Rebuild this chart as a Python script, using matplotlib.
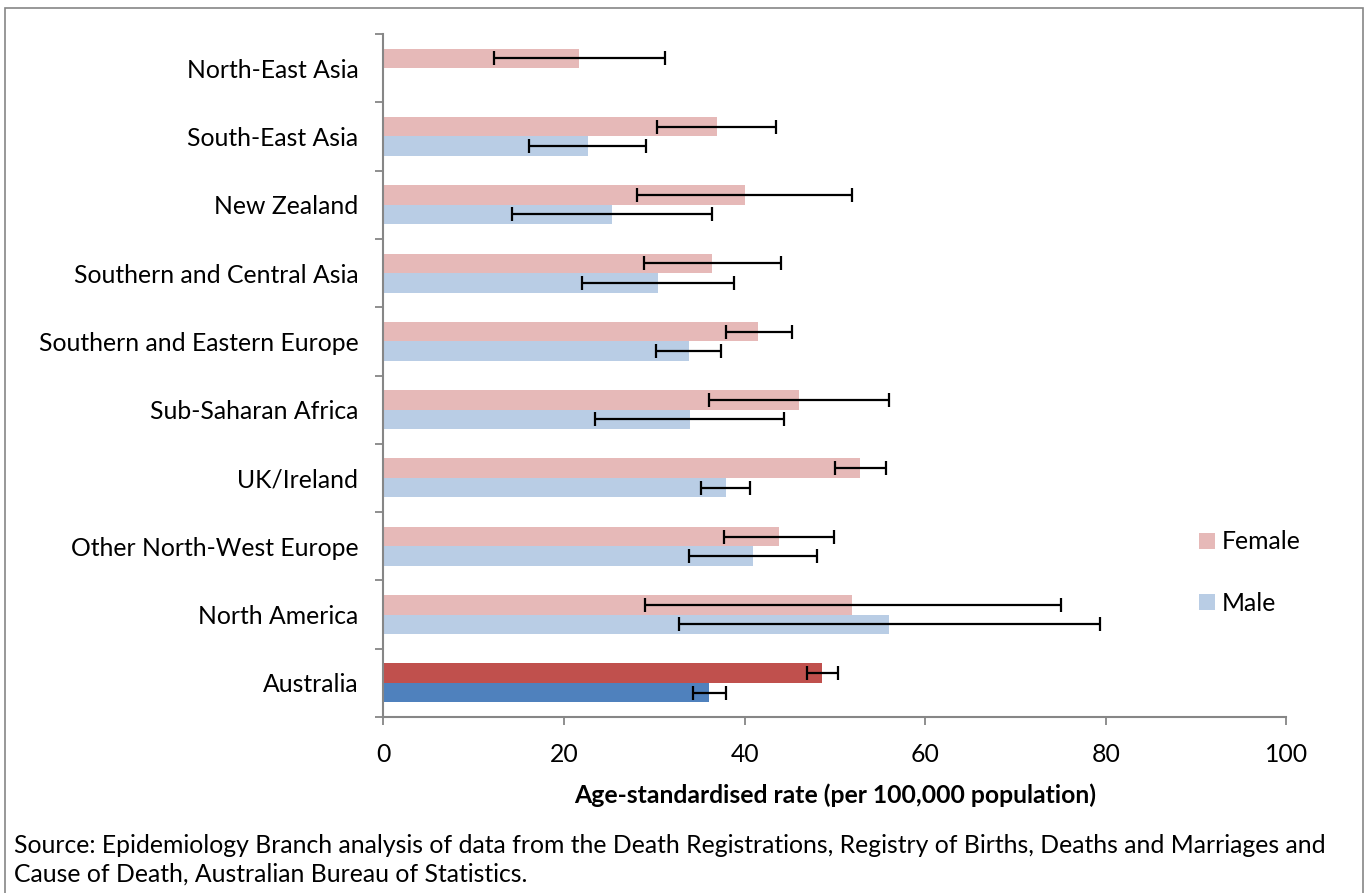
import matplotlib
matplotlib.use("Agg")
import matplotlib.pyplot as plt
import numpy as np
from matplotlib.patches import Rectangle, Patch

plt.rcParams['font.family'] = ['Lato', 'DejaVu Sans']

# categories, top to bottom as shown
categories = ["North-East Asia", "South-East Asia", "New Zealand",
              "Southern and Central Asia", "Southern and Eastern Europe",
              "Sub-Saharan Africa", "UK/Ireland", "Other North-West Europe",
              "North America", "Australia"]

female = [21.7, 36.9, 40.0, 36.4, 41.5, 46.0, 52.8, 43.8, 51.9, 48.6]
female_lo = [12.2, 30.3, 28.1, 28.8, 37.9, 36.0, 50.0, 37.7, 29.0, 46.9]
female_hi = [31.2, 43.5, 51.9, 44.0, 45.2, 56.0, 55.6, 49.9, 75.0, 50.3]

male = [0.0, 22.6, 25.3, 30.4, 33.8, 34.0, 37.9, 40.9, 56.0, 36.1]
male_lo = [np.nan, 16.1, 14.2, 22.0, 30.2, 23.4, 35.2, 33.8, 32.7, 34.3]
male_hi = [np.nan, 29.1, 36.4, 38.8, 37.4, 44.4, 40.6, 48.0, 79.3, 37.9]

xticks = [0, 20, 40, 60, 80, 100]

# plot from bottom up
cats = categories[::-1]
f = np.array(female[::-1]); flo = np.array(female_lo[::-1]); fhi = np.array(female_hi[::-1])
m = np.array(male[::-1]); mlo = np.array(male_lo[::-1]); mhi = np.array(male_hi[::-1])

pink, blue = '#E6B9B8', '#B9CDE5'
red, dblue = '#C0504D', '#4F81BD'
grey = '#868686'
fs = 17.8

fcol = [red if c == "Australia" else pink for c in cats]
mcol = [dblue if c == "Australia" else blue for c in cats]

fig = plt.figure(figsize=(13.68, 8.93), dpi=100)
ax = fig.add_axes([0.2803, 0.1971, 0.6601, 0.7648])

y = np.arange(len(cats))
h = 0.285
ax.barh(y + h / 2, f, height=h, color=fcol)
ax.barh(y - h / 2, m, height=h, color=mcol)

err_kw = dict(fmt='none', ecolor='black', elinewidth=1.6, capsize=5, capthick=1.6)
ax.errorbar(f, y + h / 2, xerr=[f - flo, fhi - f], **err_kw)
ax.errorbar(m, y - h / 2, xerr=[m - mlo, mhi - m], **err_kw)

ax.set_xlim(0, 100)
ax.set_ylim(-0.5, len(cats) - 0.5)
ax.set_xticks(xticks)
ax.set_xticklabels([str(t) for t in xticks], fontsize=fs)
ax.set_yticks(y)
ax.set_yticklabels(cats, fontsize=fs)
ax.set_yticks(np.arange(len(cats) + 1) - 0.5, minor=True)
ax.tick_params(axis='y', which='major', length=0, pad=18)
ax.tick_params(axis='y', which='minor', length=6, color=grey, width=1.3)
ax.tick_params(axis='x', length=6, color=grey, width=1.3, pad=13)

for s in ['top', 'right']:
    ax.spines[s].set_visible(False)
for s in ['left', 'bottom']:
    ax.spines[s].set_color(grey)
    ax.spines[s].set_linewidth(1.5)

ax.set_xlabel('Age-standardised rate (per 100,000 population)', fontsize=fs,
              fontweight='bold', labelpad=12)

handles = [Patch(facecolor=pink, label='Female'), Patch(facecolor=blue, label='Male')]
fig.legend(handles=handles, loc='upper left', bbox_to_anchor=(0.8605, 0.431),
           frameon=False, fontsize=fs, handlelength=0.62, handleheight=0.62,
           handletextpad=0.3, labelspacing=1.55)

fig.text(0.0102, 0.0368, "Source: Epidemiology Branch analysis of data from the Death Registrations, "
         "Registry of Births, Deaths and Marriages and\nCause of Death, Australian Bureau of Statistics.",
         fontsize=fs, ha='left', va='center', linespacing=1.3)

fig.patches.append(Rectangle((5 / 1368, -0.05), 1358 / 1368, 1.05 - 8 / 893,
                             transform=fig.transFigure, fill=False,
                             edgecolor=grey, linewidth=1.2))

fig.savefig('out.png', dpi=100)
